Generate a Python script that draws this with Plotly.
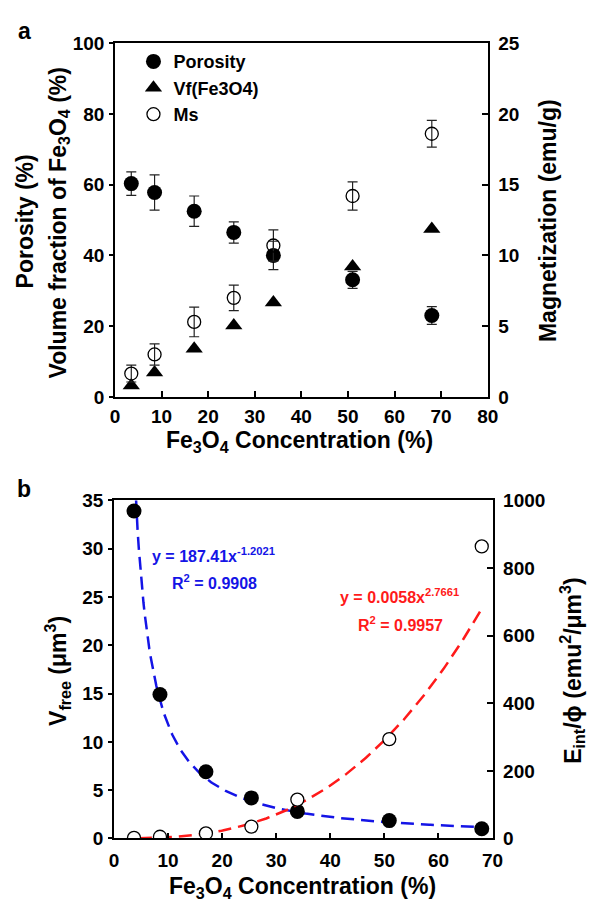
import numpy as np
import plotly.graph_objects as go

W, H = 597, 911

# ---------------- Data: panel a ----------------
conc_a = [3.5, 8.5, 17, 25.5, 34, 51, 68]
porosity = [60.3, 57.8, 52.5, 46.5, 40.0, 33.1, 23.0]
porosity_err = [3.3, 5.0, 4.3, 3.0, 4.0, 2.4, 2.5]
vf_fe3o4 = [3.2, 6.9, 13.6, 20.2, 26.7, 36.9, 47.5]
ms = [1.65, 3.0, 5.3, 7.0, 10.7, 14.2, 18.6]
ms_err = [0.6, 0.75, 1.05, 0.9, 1.1, 1.0, 0.95]

# ---------------- Data: panel b ----------------
conc_b = [3.7, 8.5, 17, 25.4, 33.9, 50.9, 68]
v_free = [33.9, 14.9, 6.9, 4.2, 2.8, 1.85, 1.0]
e_int = [2, 5, 15, 35, 115, 294, 864]

# fit coefficients (from the chart annotations)
blue_a, blue_b = 187.41, -1.2021
red_a, red_b = 0.0058, 2.7661
blue_range = [3.5, 68]
red_range = [4.6, 68]

FONT = "Liberation Sans, Arial, sans-serif"
BLACK = "#000000"
BLUE = "#1414e6"
RED = "#ff1a1a"


def px(x):
    return x / W


def py(y):
    return 1 - y / H


fig = go.Figure()

# ---- panel a traces ----
fig.add_trace(go.Scatter(
    x=conc_a, y=porosity, mode="markers", name="<b>Porosity</b>",
    marker=dict(symbol="circle", size=15, color=BLACK),
    error_y=dict(type="data", array=porosity_err, color="#222222", thickness=1.2, width=5),
    xaxis="x", yaxis="y"))
fig.add_trace(go.Scatter(
    x=conc_a, y=vf_fe3o4, mode="markers", name="<b>Vf(Fe3O4)</b>",
    marker=dict(symbol="triangle-up", size=15, color=BLACK),
    xaxis="x", yaxis="y"))
fig.add_trace(go.Scatter(
    x=conc_a, y=ms, mode="markers", name="<b>Ms</b>",
    marker=dict(symbol="circle-open", size=13, color=BLACK, line=dict(width=1.3)),
    error_y=dict(type="data", array=ms_err, color="#222222", thickness=1.2, width=5),
    xaxis="x", yaxis="y2"))

# ---- panel b traces ----
xb = np.linspace(blue_range[0], blue_range[1], 300)
xr = np.linspace(red_range[0], red_range[1], 300)
fig.add_trace(go.Scatter(
    x=xb, y=blue_a * xb ** blue_b, mode="lines", showlegend=False,
    line=dict(color=BLUE, width=2.5, dash="13px,7px"), xaxis="x2", yaxis="y3"))
fig.add_trace(go.Scatter(
    x=xr, y=red_a * xr ** red_b, mode="lines", showlegend=False,
    line=dict(color=RED, width=2.5, dash="13px,7px"), xaxis="x2", yaxis="y4"))
fig.add_trace(go.Scatter(
    x=conc_b, y=v_free, mode="markers", showlegend=False,
    marker=dict(symbol="circle", size=15, color=BLACK),
    xaxis="x2", yaxis="y3"))
fig.add_trace(go.Scatter(
    x=conc_b, y=e_int, mode="markers", showlegend=False,
    marker=dict(symbol="circle", size=13, color="white", line=dict(width=1.3, color=BLACK)),
    xaxis="x2", yaxis="y4"))

tickfont = dict(family=FONT, size=19, color=BLACK, weight="bold")
common = dict(showgrid=False, zeroline=False, showline=True, linecolor=BLACK,
              linewidth=1.5, tickcolor=BLACK, tickwidth=1.5, tickfont=tickfont)

a_dom_x = [px(113), px(496)]
a_dom_y = [py(396), py(34)]
b_dom_x = [px(112), px(501)]
b_dom_y = [py(848), py(502)]

fig.update_layout(
    width=W, height=H, margin=dict(l=0, r=0, t=0, b=0),
    paper_bgcolor="white", plot_bgcolor="white",
    font=dict(family=FONT, color=BLACK),
    xaxis=dict(domain=a_dom_x, range=[0, 80], dtick=10, ticks="inside", ticklen=6,
               mirror=True, anchor="y", ticklabelstandoff=2, **common),
    yaxis=dict(domain=a_dom_y, range=[0, 100], dtick=20, ticks="outside", ticklen=4,
               anchor="x", ticklabelstandoff=1, **common),
    yaxis2=dict(domain=a_dom_y, range=[0, 25], dtick=5, ticks="inside", ticklen=6,
                side="right", overlaying="y", anchor="x", ticklabelstandoff=5, **common),
    xaxis2=dict(domain=b_dom_x, range=[0, 70], dtick=10, ticks="inside", ticklen=6,
                mirror=True, anchor="y3", ticklabelstandoff=4, **common),
    yaxis3=dict(domain=b_dom_y, range=[0, 35], dtick=5, ticks="outside", ticklen=4,
                anchor="x2", ticklabelstandoff=1, **common),
    yaxis4=dict(domain=b_dom_y, range=[0, 1000], dtick=200, ticks="inside", ticklen=6,
                side="right", overlaying="y3", anchor="x2", ticklabelstandoff=5, **common),
    legend=dict(x=px(132), y=py(34), xanchor="left", yanchor="top",
                bgcolor="rgba(0,0,0,0)", font=dict(family=FONT, size=18, color=BLACK),
                itemwidth=30, tracegroupgap=0),
)

ann = []


def add_text(x, y, text, size, angle=0, color=BLACK, xanchor="center"):
    ann.append(dict(x=px(x), y=py(y), xref="paper", yref="paper", text=text,
                    showarrow=False, textangle=angle, xanchor=xanchor, yanchor="middle",
                    font=dict(family=FONT, size=size, color=color, weight="bold")))


add_text(20, 21, "a", 23)
add_text(20, 490, "b", 23)
add_text(303, 442, "Fe<sub>3</sub>O<sub>4</sub> Concentration (%)", 23)
add_text(306, 898, "Fe<sub>3</sub>O<sub>4</sub> Concentration (%)", 23)
add_text(21, 216, "Porosity (%)", 23, -90)
add_text(56, 218, "Volume fraction of Fe<sub>3</sub>O<sub>4</sub> (%)", 23, -90)
add_text(558, 216, "Magnetization (emu/g)", 23, -90)
add_text(54, 677, "V<sub>free</sub> (μm<sup>3</sup>)", 23, -90)
add_text(583, 676, "E<sub>int</sub>/ϕ (emu<sup>2</sup>/μm<sup>3</sup>)", 23, -90)
add_text(214, 558, "y = 187.41x<sup>-1.2021</sup>", 16, color=BLUE)
add_text(215, 585, "R<sup>2</sup> = 0.9908", 16, color=BLUE)
add_text(405, 600, "y = 0.0058x<sup>2.7661</sup>", 16, color=RED)
add_text(406, 628, "R<sup>2</sup> = 0.9957", 16, color=RED)

fig.update_layout(annotations=ann)

fig.write_html("out.html")
